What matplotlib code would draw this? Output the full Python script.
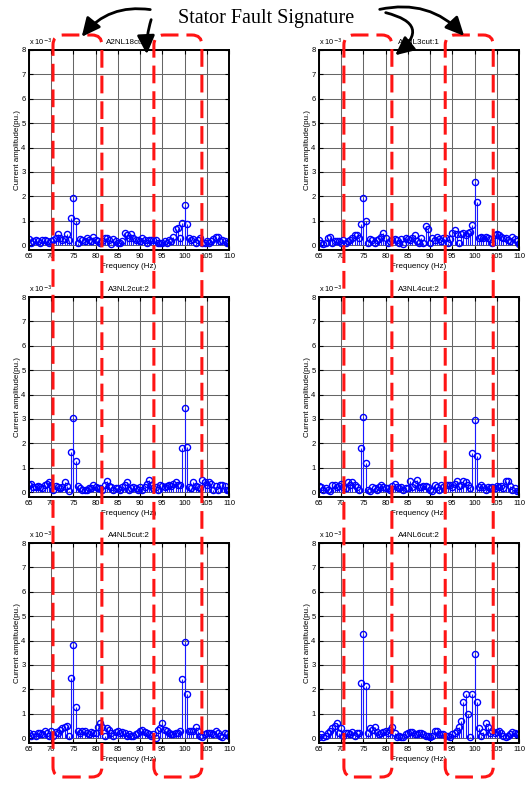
import numpy as np
import matplotlib
matplotlib.use("Agg")
import matplotlib.pyplot as plt
from matplotlib.patches import FancyBboxPatch, FancyArrowPatch
from matplotlib.transforms import IdentityTransform

# ---------------- data (amplitudes in units of 1e-3 p.u.) ----------------
freq = np.arange(65.0, 110.01, 0.5)  # FFT bins, 65..110 Hz

titles = ["A2NL18cut:1", "A2NL3cut:1", "A3NL2cut:2", "A3NL4cut:2", "A4NL5cut:2", "A4NL6cut:2"]

amp_A2NL18 = [0.25, 0.10, 0.15, 0.20, 0.15, 0.10, 0.20, 0.20, 0.15, 0.10,
              0.15, 0.20, 0.30, 0.45, 0.30, 0.20, 0.25, 0.45, 0.20, 1.10,
              1.93, 0.97, 0.10, 0.25, 0.20, 0.15, 0.30, 0.20, 0.15, 0.35,
              0.20, 0.15, 0.10, 0.15, 0.30, 0.30, 0.20, 0.05, 0.25, 0.15,
              0.10, 0.10, 0.15, 0.50, 0.40, 0.30, 0.45, 0.30, 0.20, 0.20,
              0.15, 0.30, 0.20, 0.10, 0.20, 0.20, 0.20, 0.20, 0.10, 0.10,
              0.10, 0.15, 0.10, 0.20, 0.15, 0.35, 0.65, 0.70, 0.30, 0.90,
              1.65, 0.85, 0.30, 0.20, 0.25, 0.10, 0.20, 0.30, 0.10, 0.10,
              0.15, 0.10, 0.15, 0.25, 0.35, 0.35, 0.15, 0.20, 0.15, 0.10,
              0.10]

amp_A2NL3 = [0.20, 0.10, 0.05, 0.10, 0.30, 0.35, 0.10, 0.15, 0.15, 0.15,
             0.10, 0.20, 0.10, 0.15, 0.20, 0.30, 0.40, 0.40, 0.30, 0.88,
             1.93, 1.00, 0.10, 0.25, 0.20, 0.10, 0.20, 0.25, 0.35, 0.50,
             0.30, 0.10, 0.15, 0.20, 0.25, 0.20, 0.10, 0.25, 0.05, 0.30,
             0.25, 0.20, 0.30, 0.40, 0.15, 0.10, 0.30, 0.10, 0.80, 0.65,
             0.10, 0.30, 0.20, 0.35, 0.25, 0.15, 0.30, 0.30, 0.10, 0.25,
             0.50, 0.60, 0.45, 0.10, 0.45, 0.50, 0.40, 0.50, 0.55, 0.82,
             2.58, 1.77, 0.30, 0.35, 0.30, 0.35, 0.30, 0.25, 0.10, 0.40,
             0.45, 0.40, 0.35, 0.30, 0.30, 0.20, 0.15, 0.35, 0.25, 0.15,
             0.05]

amp_A3NL2 = [0.30, 0.35, 0.20, 0.20, 0.25, 0.20, 0.15, 0.30, 0.35, 0.40,
             0.30, 0.10, 0.25, 0.20, 0.15, 0.20, 0.40, 0.25, 0.05, 1.65,
             3.05, 1.28, 0.25, 0.15, 0.10, 0.10, 0.10, 0.15, 0.15, 0.30,
             0.20, 0.15, 0.15, 0.10, 0.30, 0.45, 0.25, 0.20, 0.10, 0.15,
             0.15, 0.10, 0.20, 0.30, 0.40, 0.10, 0.15, 0.20, 0.15, 0.10,
             0.20, 0.10, 0.20, 0.35, 0.50, 0.30, 0.15, 0.20, 0.10, 0.30,
             0.25, 0.20, 0.25, 0.30, 0.25, 0.35, 0.40, 0.30, 0.30, 1.80,
             3.45, 1.85, 0.20, 0.15, 0.40, 0.25, 0.20, 0.15, 0.50, 0.40,
             0.30, 0.40, 0.35, 0.10, 0.25, 0.10, 0.30, 0.30, 0.25, 0.10,
             0.10]

amp_A3NL4 = [0.25, 0.20, 0.10, 0.15, 0.10, 0.05, 0.30, 0.30, 0.20, 0.25,
             0.35, 0.20, 0.15, 0.40, 0.30, 0.40, 0.30, 0.20, 0.10, 1.80,
             3.08, 1.20, 0.10, 0.05, 0.20, 0.15, 0.10, 0.20, 0.30, 0.20,
             0.15, 0.15, 0.10, 0.25, 0.35, 0.20, 0.15, 0.20, 0.10, 0.15,
             0.15, 0.45, 0.20, 0.35, 0.50, 0.20, 0.20, 0.25, 0.25, 0.20,
             0.10, 0.05, 0.30, 0.20, 0.10, 0.30, 0.20, 0.30, 0.30, 0.30,
             0.20, 0.35, 0.45, 0.25, 0.30, 0.45, 0.40, 0.30, 0.15, 1.62,
             2.97, 1.50, 0.20, 0.30, 0.20, 0.10, 0.20, 0.15, 0.20, 0.15,
             0.25, 0.20, 0.25, 0.15, 0.45, 0.45, 0.25, 0.10, 0.15, 0.05,
             0.05]

amp_A4NL5 = [0.20, 0.10, 0.15, 0.10, 0.20, 0.20, 0.15, 0.30, 0.20, 0.10,
             0.30, 0.10, 0.25, 0.20, 0.35, 0.40, 0.45, 0.50, 0.10, 2.45,
             3.80, 1.28, 0.30, 0.20, 0.30, 0.30, 0.20, 0.15, 0.25, 0.20,
             0.20, 0.45, 0.60, 0.45, 0.10, 0.40, 0.35, 0.20, 0.10, 0.25,
             0.30, 0.20, 0.25, 0.20, 0.10, 0.15, 0.10, 0.10, 0.15, 0.20,
             0.30, 0.35, 0.25, 0.20, 0.15, 0.10, 0.15, 0.00, 0.35, 0.40,
             0.60, 0.35, 0.30, 0.20, 0.15, 0.15, 0.20, 0.20, 0.30, 2.42,
             3.95, 1.80, 0.30, 0.30, 0.30, 0.45, 0.30, 0.10, 0.05, 0.15,
             0.20, 0.20, 0.20, 0.15, 0.30, 0.20, 0.10, 0.05, 0.20, 0.15,
             0.10]

amp_A4NL6 = [0.05, 0.15, 0.05, 0.10, 0.20, 0.30, 0.40, 0.50, 0.60, 0.20,
             0.40, 0.10, 0.20, 0.20, 0.15, 0.25, 0.10, 0.20, 0.20, 2.27,
             4.25, 2.15, 0.20, 0.40, 0.35, 0.45, 0.25, 0.15, 0.20, 0.25,
             0.30, 0.20, 0.35, 0.45, 0.20, 0.05, 0.10, 0.05, 0.05, 0.15,
             0.20, 0.25, 0.25, 0.15, 0.15, 0.20, 0.20, 0.15, 0.10, 0.10,
             0.05, 0.10, 0.30, 0.30, 0.15, 0.15, 0.15, 0.10, 0.10, 0.05,
             0.15, 0.20, 0.30, 0.45, 0.70, 1.48, 1.82, 1.00, 0.05, 1.80,
             3.45, 1.50, 0.40, 0.10, 0.25, 0.60, 0.45, 0.20, 0.30, 0.20,
             0.25, 0.30, 0.20, 0.10, 0.05, 0.10, 0.15, 0.25, 0.20, 0.15,
             0.15]

series = [amp_A2NL18, amp_A2NL3, amp_A3NL2, amp_A3NL4, amp_A4NL5, amp_A4NL6]

xticks = [65, 70, 75, 80, 85, 90, 95, 100, 105, 110]
yticks = [0, 1, 2, 3, 4, 5, 6, 7, 8]

# annotation bands (Hz) for the red dashed boxes
bands_left = [(70.4, 81.4), (93.1, 103.9)]
bands_right = [(70.6, 81.4), (93.4, 104.2)]

# ---------------- figure ----------------
W, H = 529, 786
DPI = 100
fig = plt.figure(figsize=(W / DPI, H / DPI), dpi=DPI)
plt.rcParams['font.family'] = ['Liberation Sans', 'DejaVu Sans']

col_x = [29, 319]
row_top = [50, 297, 543]
aw, ah = 200, 200

axes = []
for i, (amp, ttl) in enumerate(zip(series, titles)):
    r, c = divmod(i, 2)
    x0 = col_x[c] / W
    y0 = (H - row_top[r] - ah) / H
    ax = fig.add_axes([x0, y0, aw / W, ah / H])
    axes.append(ax)
    ax.set_xlim(65, 110)
    ax.set_ylim(-0.2, 8)
    ax.set_xticks(xticks)
    ax.set_yticks(yticks)
    ax.grid(True, color='0.4', linestyle='-', linewidth=0.75)
    ax.set_axisbelow(True)
    ml, sl, bl = ax.stem(freq, amp, linefmt='b-', markerfmt='bo', basefmt=' ')
    plt.setp(sl, linewidth=0.8, color='#1a1aff')
    plt.setp(ml, markerfacecolor='none', markeredgecolor='#0000ff',
             markersize=4.4, markeredgewidth=1.0)
    for s in ax.spines.values():
        s.set_linewidth(1.4)
    ax.tick_params(direction='in', length=3, width=0.8, top=True, right=True,
                   labelsize=5.5, pad=2.5)
    ax.set_title(ttl, fontsize=5.8, pad=4)
    ax.set_xlabel('Frequency (Hz)', fontsize=5.8, labelpad=2)
    ax.set_ylabel('Current amplitude(pu.)', fontsize=5.8, labelpad=0.5)
    ax.text(0.0, 1.01, r'x 10$^{-3}$', transform=ax.transAxes,
            fontsize=5.3, ha='left', va='bottom')

# ---------------- red dashed boxes ----------------
box_top = H - 35
box_bot = H - 777
for c, bands in enumerate([bands_left, bands_right]):
    ax = axes[c]
    for (f0, f1) in bands:
        xa = ax.transData.transform((f0, 0))[0]
        xb = ax.transData.transform((f1, 0))[0]
        p = FancyBboxPatch((xa, box_bot), xb - xa, box_top - box_bot,
                           boxstyle="round,pad=0,rounding_size=10",
                           transform=IdentityTransform(), fill=False,
                           edgecolor='#ff1414', linewidth=2.2,
                           linestyle=(0, (5.8, 2.6)), zorder=10)
        fig.add_artist(p)

# ---------------- title and arrows ----------------
fig.text(266 / W, 1 - 18 / H, 'Stator Fault Signature', fontsize=14.5,
         family='Liberation Serif', ha='center', va='center')

def px(x, y):
    return (x, H - y)

arrows = [
    (px(153, 10), px(80, 39), 0.3),
    (px(152, 17), px(147, 57), 0.1),
    (px(377, 10), px(466, 38), -0.3),
    (px(383, 12), px(393, 57), -1.05),
]
for a, b, rad in arrows:
    ar = FancyArrowPatch(a, b, transform=IdentityTransform(),
                         connectionstyle=f"arc3,rad={rad}",
                         arrowstyle="-|>,head_length=0.8,head_width=0.38",
                         mutation_scale=14, linewidth=2.0, color='black',
                         zorder=11)
    fig.add_artist(ar)

fig.savefig('out.png', dpi=DPI)
